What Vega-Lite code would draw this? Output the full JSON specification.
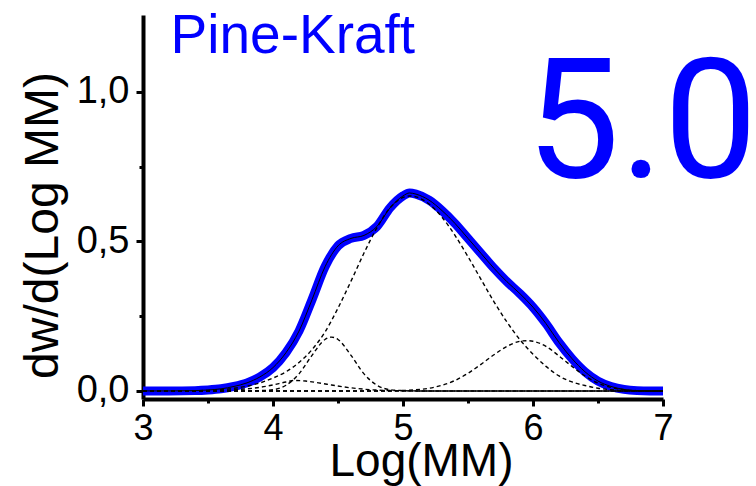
{
  "$schema": "https://vega.github.io/schema/vega-lite/v6.json",
  "width": 520,
  "height": 384,
  "autosize": {"type": "none"},
  "padding": {"left": 143, "top": 15, "right": 93, "bottom": 87},
  "background": "white",
  "config": {"view": {"stroke": null}, "font": "Liberation Sans"},
  "datasets": {
    "fit": [
      {"x": 3.0, "y": 0}, {"x": 3.2, "y": 0}, {"x": 3.4, "y": 0.001}, {"x": 3.5, "y": 0.003},
      {"x": 3.6, "y": 0.007}, {"x": 3.7, "y": 0.015}, {"x": 3.8, "y": 0.027}, {"x": 3.9, "y": 0.047},
      {"x": 4.0, "y": 0.078}, {"x": 4.1, "y": 0.128}, {"x": 4.2, "y": 0.2}, {"x": 4.3, "y": 0.305},
      {"x": 4.4, "y": 0.415}, {"x": 4.5, "y": 0.485}, {"x": 4.6, "y": 0.51}, {"x": 4.7, "y": 0.52},
      {"x": 4.8, "y": 0.55}, {"x": 4.9, "y": 0.612}, {"x": 5.0, "y": 0.652}, {"x": 5.05, "y": 0.662},
      {"x": 5.1, "y": 0.658}, {"x": 5.2, "y": 0.638}, {"x": 5.3, "y": 0.603}, {"x": 5.4, "y": 0.56},
      {"x": 5.5, "y": 0.51}, {"x": 5.6, "y": 0.46}, {"x": 5.7, "y": 0.41}, {"x": 5.8, "y": 0.365},
      {"x": 5.9, "y": 0.325}, {"x": 6.0, "y": 0.28}, {"x": 6.1, "y": 0.225}, {"x": 6.2, "y": 0.162},
      {"x": 6.3, "y": 0.108}, {"x": 6.4, "y": 0.064}, {"x": 6.5, "y": 0.033}, {"x": 6.6, "y": 0.015},
      {"x": 6.7, "y": 0.005}, {"x": 6.8, "y": 0.001}, {"x": 6.9, "y": 0}, {"x": 7.0, "y": 0}
    ],
    "comp": [
      {"c": "A", "x": 3.0, "y": 0}, {"c": "A", "x": 3.3, "y": 0}, {"c": "A", "x": 3.5, "y": 0.002},
      {"c": "A", "x": 3.6, "y": 0.004}, {"c": "A", "x": 3.7, "y": 0.009}, {"c": "A", "x": 3.8, "y": 0.016},
      {"c": "A", "x": 3.9, "y": 0.027}, {"c": "A", "x": 4.0, "y": 0.043}, {"c": "A", "x": 4.1, "y": 0.064},
      {"c": "A", "x": 4.2, "y": 0.095}, {"c": "A", "x": 4.3, "y": 0.138}, {"c": "A", "x": 4.4, "y": 0.197},
      {"c": "A", "x": 4.5, "y": 0.277}, {"c": "A", "x": 4.6, "y": 0.367}, {"c": "A", "x": 4.7, "y": 0.461},
      {"c": "A", "x": 4.8, "y": 0.546}, {"c": "A", "x": 4.9, "y": 0.612}, {"c": "A", "x": 5.0, "y": 0.647},
      {"c": "A", "x": 5.05, "y": 0.652}, {"c": "A", "x": 5.1, "y": 0.649}, {"c": "A", "x": 5.2, "y": 0.625},
      {"c": "A", "x": 5.3, "y": 0.581}, {"c": "A", "x": 5.4, "y": 0.52}, {"c": "A", "x": 5.5, "y": 0.449},
      {"c": "A", "x": 5.6, "y": 0.373}, {"c": "A", "x": 5.7, "y": 0.298}, {"c": "A", "x": 5.8, "y": 0.23},
      {"c": "A", "x": 5.9, "y": 0.171}, {"c": "A", "x": 6.0, "y": 0.123}, {"c": "A", "x": 6.1, "y": 0.082},
      {"c": "A", "x": 6.2, "y": 0.05}, {"c": "A", "x": 6.3, "y": 0.03}, {"c": "A", "x": 6.4, "y": 0.018},
      {"c": "A", "x": 6.5, "y": 0.009}, {"c": "A", "x": 6.6, "y": 0.004}, {"c": "A", "x": 6.7, "y": 0.001},
      {"c": "A", "x": 6.8, "y": 0}, {"c": "A", "x": 7.0, "y": 0},
      {"c": "B", "x": 3.0, "y": 0}, {"c": "B", "x": 3.8, "y": 0}, {"c": "B", "x": 3.9, "y": 0.001},
      {"c": "B", "x": 4.0, "y": 0.004}, {"c": "B", "x": 4.1, "y": 0.019}, {"c": "B", "x": 4.2, "y": 0.057},
      {"c": "B", "x": 4.3, "y": 0.119}, {"c": "B", "x": 4.4, "y": 0.172}, {"c": "B", "x": 4.45, "y": 0.18},
      {"c": "B", "x": 4.5, "y": 0.172}, {"c": "B", "x": 4.6, "y": 0.119}, {"c": "B", "x": 4.7, "y": 0.057},
      {"c": "B", "x": 4.8, "y": 0.019}, {"c": "B", "x": 4.9, "y": 0.004}, {"c": "B", "x": 5.0, "y": 0.001},
      {"c": "B", "x": 5.1, "y": 0}, {"c": "B", "x": 7.0, "y": 0},
      {"c": "C", "x": 3.0, "y": 0}, {"c": "C", "x": 3.4, "y": 0}, {"c": "C", "x": 3.5, "y": 0.001},
      {"c": "C", "x": 3.6, "y": 0.002}, {"c": "C", "x": 3.7, "y": 0.004}, {"c": "C", "x": 3.8, "y": 0.007},
      {"c": "C", "x": 3.9, "y": 0.012}, {"c": "C", "x": 4.0, "y": 0.02}, {"c": "C", "x": 4.1, "y": 0.03},
      {"c": "C", "x": 4.17, "y": 0.035}, {"c": "C", "x": 4.25, "y": 0.033}, {"c": "C", "x": 4.35, "y": 0.027},
      {"c": "C", "x": 4.45, "y": 0.02}, {"c": "C", "x": 4.55, "y": 0.013}, {"c": "C", "x": 4.65, "y": 0.008},
      {"c": "C", "x": 4.75, "y": 0.004}, {"c": "C", "x": 4.85, "y": 0.002}, {"c": "C", "x": 5.0, "y": 0.0005},
      {"c": "C", "x": 5.1, "y": 0}, {"c": "C", "x": 7.0, "y": 0},
      {"c": "D", "x": 3.0, "y": 0}, {"c": "D", "x": 4.9, "y": 0}, {"c": "D", "x": 5.0, "y": 0.0015},
      {"c": "D", "x": 5.1, "y": 0.004}, {"c": "D", "x": 5.2, "y": 0.009}, {"c": "D", "x": 5.3, "y": 0.019},
      {"c": "D", "x": 5.4, "y": 0.035}, {"c": "D", "x": 5.5, "y": 0.059}, {"c": "D", "x": 5.6, "y": 0.089},
      {"c": "D", "x": 5.7, "y": 0.121}, {"c": "D", "x": 5.8, "y": 0.149}, {"c": "D", "x": 5.9, "y": 0.166},
      {"c": "D", "x": 5.95, "y": 0.168}, {"c": "D", "x": 6.0, "y": 0.166}, {"c": "D", "x": 6.1, "y": 0.149},
      {"c": "D", "x": 6.2, "y": 0.117}, {"c": "D", "x": 6.3, "y": 0.082}, {"c": "D", "x": 6.4, "y": 0.05},
      {"c": "D", "x": 6.5, "y": 0.026}, {"c": "D", "x": 6.6, "y": 0.012}, {"c": "D", "x": 6.7, "y": 0.004},
      {"c": "D", "x": 6.8, "y": 0.001}, {"c": "D", "x": 6.9, "y": 0}, {"c": "D", "x": 7.0, "y": 0},
      {"c": "E", "x": 3.0, "y": 0}, {"c": "E", "x": 7.0, "y": 0}
    ],
    "labels": [
      {"name": "sample", "label": "Pine-Kraft"},
      {"name": "value", "label": "5.0"}
    ]
  },
  "layer": [
    {
      "data": {"name": "fit"},
      "mark": {"type": "line", "color": "#0000ff", "strokeWidth": 9, "interpolate": "monotone", "strokeCap": "butt"},
      "encoding": {
        "x": {
          "field": "x", "type": "quantitative",
          "scale": {"domain": [3, 7], "nice": false, "zero": false},
          "axis": {
            "values": [3, 3.5, 4, 4.5, 5, 5.5, 6, 6.5, 7],
            "labelExpr": "datum.value % 1 === 0 ? format(datum.value, 'd') : ''",
            "title": "Log(MM)",
            "grid": false,
            "domainColor": "black", "domainWidth": 4,
            "tickColor": "black", "tickWidth": 3,
            "tickSize": {"condition": {"test": "datum.value % 1 === 0", "value": 7}, "value": 4},
            "labelFont": "Liberation Sans", "labelFontSize": 36, "labelColor": "black",
            "labelPadding": 5, "labelOverlap": false, "labelFlush": false,
            "titleFont": "Liberation Sans", "titleFontSize": 46, "titleFontWeight": "normal", "titleColor": "black",
            "titleX": 278, "titleY": 76, "titleAlign": "center", "titleBaseline": "alphabetic"
          }
        },
        "y": {
          "field": "y", "type": "quantitative",
          "scale": {"domain": [-0.027, 1.257], "nice": false, "zero": false},
          "axis": {
            "values": [0, 0.25, 0.5, 0.75, 1.0],
            "labelExpr": "(datum.value * 2) % 1 === 0 ? replace(format(datum.value, '.1f'), '.', ',') : ''",
            "title": "dw/d(Log MM)",
            "grid": false,
            "domainColor": "black", "domainWidth": 4,
            "tickColor": "black", "tickWidth": 3,
            "tickSize": {"condition": {"test": "(datum.value * 2) % 1 === 0", "value": 7}, "value": 4},
            "labelFont": "Liberation Sans", "labelFontSize": 38, "labelColor": "black",
            "labelPadding": 7, "labelOverlap": false, "labelFlush": false,
            "titleFont": "Liberation Sans", "titleFontSize": 48, "titleFontWeight": "normal", "titleColor": "black",
            "titleAngle": -90, "titleX": -86, "titleY": 210, "titleAlign": "center", "titleBaseline": "alphabetic"
          }
        },
        "detail": {"value": "fit"}
      }
    },
    {
      "data": {"name": "comp"},
      "mark": {"type": "line", "color": "black", "strokeWidth": 1.4, "strokeDash": [4, 3], "interpolate": "monotone"},
      "encoding": {
        "x": {"field": "x", "type": "quantitative"},
        "y": {"field": "y", "type": "quantitative"},
        "detail": {"field": "c"}
      }
    },
    {
      "data": {"name": "fit"},
      "mark": {"type": "line", "color": "black", "strokeWidth": 1, "interpolate": "monotone"},
      "encoding": {
        "x": {"field": "x", "type": "quantitative"},
        "y": {"field": "y", "type": "quantitative"}
      }
    },
    {
      "data": {"name": "labels"},
      "transform": [{"filter": "datum.name === 'sample'"}],
      "mark": {"type": "text", "font": "Liberation Sans", "fontSize": 55, "color": "#0000ff", "align": "left", "baseline": "alphabetic"},
      "encoding": {
        "text": {"field": "label"},
        "x": {"datum": 3.212, "type": "quantitative"},
        "y": {"datum": 1.13, "type": "quantitative"}
      }
    },
    {
      "data": {"name": "labels"},
      "transform": [{"filter": "datum.name === 'value'"}],
      "mark": {"type": "text", "font": "Roboto", "fontSize": 167, "color": "#0000ff", "align": "left", "baseline": "alphabetic"},
      "encoding": {
        "text": {"field": "label"},
        "x": {"datum": 5.946, "type": "quantitative"},
        "y": {"datum": 0.716, "type": "quantitative"}
      }
    }
  ]
}
